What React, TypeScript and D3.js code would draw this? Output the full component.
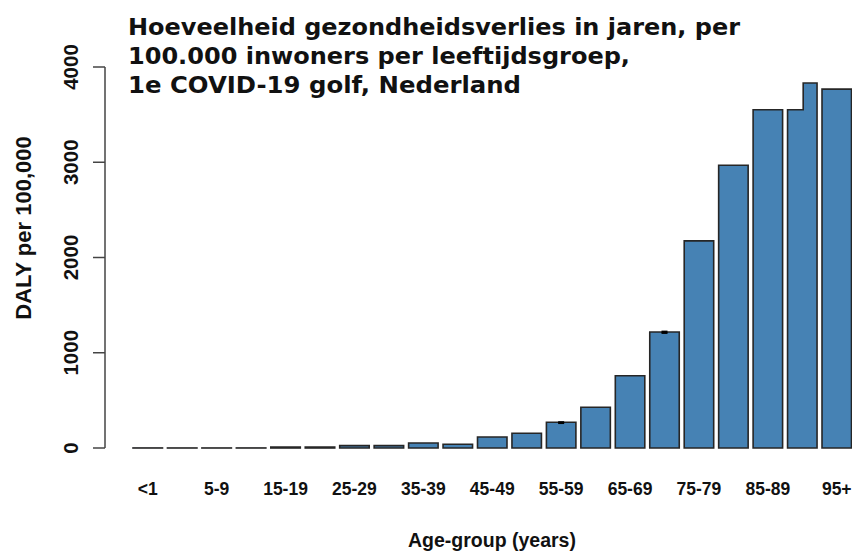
import React from "react";
import * as d3 from "d3";

const categories = ["<1","1-4","5-9","10-14","15-19","20-24","25-29","30-34","35-39","40-44","45-49","50-54","55-59","60-64","65-69","70-74","75-79","80-84","85-89","90-94","95+"];
const daly = [0.5,0.3,0.3,0.5,10,10,25,25,52,40,115,155,270,428,758,1218,2175,2968,3551,3551,3768];
// raised right-hand part of a bar (as it appears in the picture)
const stepUpper: (number | null)[] = [null,null,null,null,null,null,null,null,null,null,null,null,null,null,null,null,null,null,null,3832,null];
const errLow: (number | null)[] = [null,null,null,null,null,null,null,null,null,null,null,null,262,null,null,1208,null,null,null,null,null];
const errHigh: (number | null)[] = [null,null,null,null,null,null,null,null,null,null,null,null,271,null,null,1222,null,null,null,null,null];
const xTickLabels = ["<1","5-9","15-19","25-29","35-39","45-49","55-59","65-69","75-79","85-89","95+"];
const yTicks = [0,1000,2000,3000,4000];
const titleLines = ["Hoeveelheid gezondheidsverlies in jaren, per","100.000 inwoners per leeftijdsgroep,","1e COVID-19 golf, Nederland"];
const titleWidths = [612, 502, 393];
const xTitle = "Age-group (years)";
const yTitle = "DALY per 100,000";

const W = 852, H = 551;
const axisFont = "'Liberation Sans', Arial, sans-serif";
const titleFont = "'DejaVu Sans', Verdana, sans-serif";

export default function App() {
  const x = d3.scaleBand<string>().domain(categories).range([133, 851.5]).paddingInner(0.144).paddingOuter(0);
  const y = d3.scaleLinear().domain([0, 4000]).range([448, 67]);
  const bw = x.bandwidth();
  const axisX = 105;

  const barPath = (i: number) => {
    const x0 = x(categories[i])!;
    const x1 = x0 + bw;
    const yb = y(0);
    const yv = y(daly[i]);
    const p = d3.path();
    p.moveTo(x0, yb);
    p.lineTo(x0, yv);
    const su = stepUpper[i];
    if (su != null) {
      const xs = x0 + bw * 0.53;
      p.lineTo(xs, yv);
      p.lineTo(xs, y(su));
      p.lineTo(x1, y(su));
    } else {
      p.lineTo(x1, yv);
    }
    p.lineTo(x1, yb);
    p.closePath();
    return p.toString();
  };

  return (
    <svg width={W} height={H} style={{ position: "absolute", left: 0, top: 0, background: "#fff" }}>
      <rect x={0} y={0} width={W} height={H} fill="#fff" />
      {/* title */}
      {titleLines.map((t, i) => (
        <text key={t} x={128} y={35 + i * 29.2} fontFamily={titleFont} fontWeight="bold" fontSize={23}
          fill="#111" textLength={titleWidths[i]} lengthAdjust="spacingAndGlyphs">{t}</text>
      ))}
      {/* bars */}
      {categories.map((c, i) => (
        <path key={c} d={barPath(i)} fill="#4682B4" stroke="#262626" strokeWidth={1.6} strokeLinejoin="miter" />
      ))}
      {/* error bars */}
      {categories.map((c, i) => {
        const lo = errLow[i], hi = errHigh[i];
        if (lo == null || hi == null) return null;
        const cx = x(c)! + bw / 2;
        return (
          <g key={"e" + c} stroke="#000" strokeWidth={2}>
            <line x1={cx} x2={cx} y1={y(lo)} y2={y(hi)} />
            <line x1={cx - 3} x2={cx + 3} y1={y(lo)} y2={y(lo)} />
            <line x1={cx - 3} x2={cx + 3} y1={y(hi)} y2={y(hi)} />
          </g>
        );
      })}
      {/* y axis */}
      <line x1={axisX} x2={axisX} y1={y(0)} y2={y(4000)} stroke="#444" strokeWidth={1.5} />
      {yTicks.map((t) => (
        <g key={t}>
          <line x1={axisX - 12} x2={axisX} y1={y(t)} y2={y(t)} stroke="#444" strokeWidth={1.5} />
          <text transform={`translate(78,${y(t)}) rotate(-90)`} textAnchor="middle" fontFamily={axisFont}
            fontWeight="bold" fontSize={20.5} fill="#111">{t}</text>
        </g>
      ))}
      {/* x tick labels */}
      {xTickLabels.map((l) => (
        <text key={l} x={x(l)! + bw / 2} y={495} textAnchor="middle" fontFamily={axisFont} fontWeight="bold"
          fontSize={17.5} fill="#111">{l}</text>
      ))}
      {/* axis titles */}
      <text x={492} y={547} textAnchor="middle" fontFamily={axisFont} fontWeight="bold" fontSize={19.5} fill="#111">{xTitle}</text>
      <text transform={`translate(31,228) rotate(-90)`} textAnchor="middle" fontFamily={axisFont} fontWeight="bold"
        fontSize={22} fill="#111">{yTitle}</text>
    </svg>
  );
}
